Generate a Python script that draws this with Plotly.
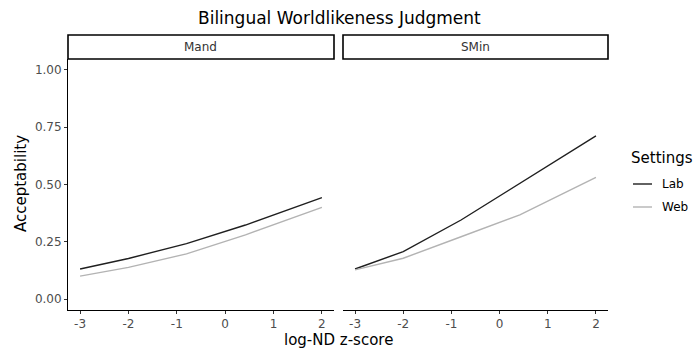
import plotly.graph_objects as go

x_vals = [-3, -2, -0.8, 0.42, 2]
mand_lab = [0.131, 0.177, 0.242, 0.323, 0.443]
mand_web = [0.100, 0.138, 0.197, 0.280, 0.400]
smin_lab = [0.131, 0.207, 0.345, 0.505, 0.712]
smin_web = [0.127, 0.178, 0.272, 0.367, 0.531]
panels = ["Mand", "SMin"]
settings = ["Lab", "Web"]
x_ticks = [-3, -2, -1, 0, 1, 2]
x_tick_text = ["-3", "-2", "-1", "0", "1", "2"]
y_ticks = [0, 0.25, 0.5, 0.75, 1.0]
y_tick_text = ["0.00", "0.25", "0.50", "0.75", "1.00"]

W, H = 694, 350
FONT = "DejaVu Sans"
colors = {"Lab": "#1f1f1f", "Web": "#b3b3b3"}

fig = go.Figure()
series = [(mand_lab, "Lab", "x", "y"), (mand_web, "Web", "x", "y"),
          (smin_lab, "Lab", "x2", "y2"), (smin_web, "Web", "x2", "y2")]
for vals, s, xa, ya in series:
    fig.add_trace(go.Scatter(x=x_vals, y=vals, mode="lines", name=s, showlegend=False,
                             line=dict(color=colors[s], width=1.4), xaxis=xa, yaxis=ya))

d1 = [68 / W, 334 / W]
d2 = [343 / W, 608 / W]
ydom = [1 - 310 / H, 1 - 59 / H]
xr = [-3.25, 2.25]
yr = [-0.048, 1.048]

xcommon = dict(range=xr, tickvals=x_ticks, ticktext=x_tick_text, ticks="outside", ticklen=3,
               tickcolor="#333333", showline=True, linecolor="#000000", linewidth=1,
               showgrid=False, zeroline=False,
               tickfont=dict(family=FONT, size=12, color="#4d4d4d"))
fig.update_layout(
    width=W, height=H, margin=dict(l=0, r=0, t=0, b=0),
    plot_bgcolor="white", paper_bgcolor="white",
    font=dict(family=FONT), showlegend=False,
    xaxis=dict(domain=d1, anchor="y", **xcommon),
    xaxis2=dict(domain=d2, anchor="y2", **xcommon),
    yaxis=dict(domain=ydom, range=yr, tickvals=y_ticks, ticktext=y_tick_text, ticks="outside",
               ticklen=3, tickcolor="#333333", showline=True, linecolor="#000000", linewidth=1,
               showgrid=False, zeroline=False, tickfont=dict(family=FONT, size=12, color="#4d4d4d"),
               anchor="x"),
    yaxis2=dict(domain=ydom, range=yr, showticklabels=False, ticks="", showline=False,
                showgrid=False, zeroline=False, anchor="x2"),
)

strip_y = [1 - 59 / H, 1 - 35 / H]
for dom, name in zip([d1, d2], panels):
    fig.add_shape(type="rect", xref="paper", yref="paper", x0=dom[0], x1=dom[1],
                  y0=strip_y[0], y1=strip_y[1], line=dict(color="#000000", width=1.6),
                  fillcolor="white", layer="above")
    fig.add_annotation(text=name, xref="paper", yref="paper", x=(dom[0] + dom[1]) / 2,
                       y=(strip_y[0] + strip_y[1]) / 2, showarrow=False,
                       xanchor="center", yanchor="middle",
                       font=dict(family=FONT, size=12, color="#333333"))

fig.add_annotation(text="Bilingual Worldlikeness Judgment", xref="paper", yref="paper",
                   x=339 / W, y=1 - 18 / H, showarrow=False, xanchor="center", yanchor="middle",
                   font=dict(family=FONT, size=17, color="#000000"))
fig.add_annotation(text="Acceptability", xref="paper", yref="paper", x=21 / W, y=1 - 184 / H,
                   textangle=-90, showarrow=False, xanchor="center", yanchor="middle",
                   font=dict(family=FONT, size=15, color="#000000"))
fig.add_annotation(text="log-ND z-score", xref="paper", yref="paper", x=338 / W, y=1 - 340 / H,
                   showarrow=False, xanchor="center", yanchor="middle",
                   font=dict(family=FONT, size=15, color="#000000"))

# legend (manual, ggplot-style)
fig.add_annotation(text="Settings", xref="paper", yref="paper", x=629 / W, y=1 - 158 / H,
                   showarrow=False, xanchor="left", yanchor="middle",
                   font=dict(family=FONT, size=15, color="#000000"))
for i, s in enumerate(settings):
    yy = 1 - (184 + 23 * i) / H
    fig.add_shape(type="line", xref="paper", yref="paper", x0=633 / W, x1=652 / W, y0=yy, y1=yy,
                  line=dict(color=colors[s], width=1.4))
    fig.add_annotation(text=s, xref="paper", yref="paper", x=660 / W, y=yy, showarrow=False,
                       xanchor="left", yanchor="middle",
                       font=dict(family=FONT, size=12, color="#000000"))

fig.write_html("out.html")
